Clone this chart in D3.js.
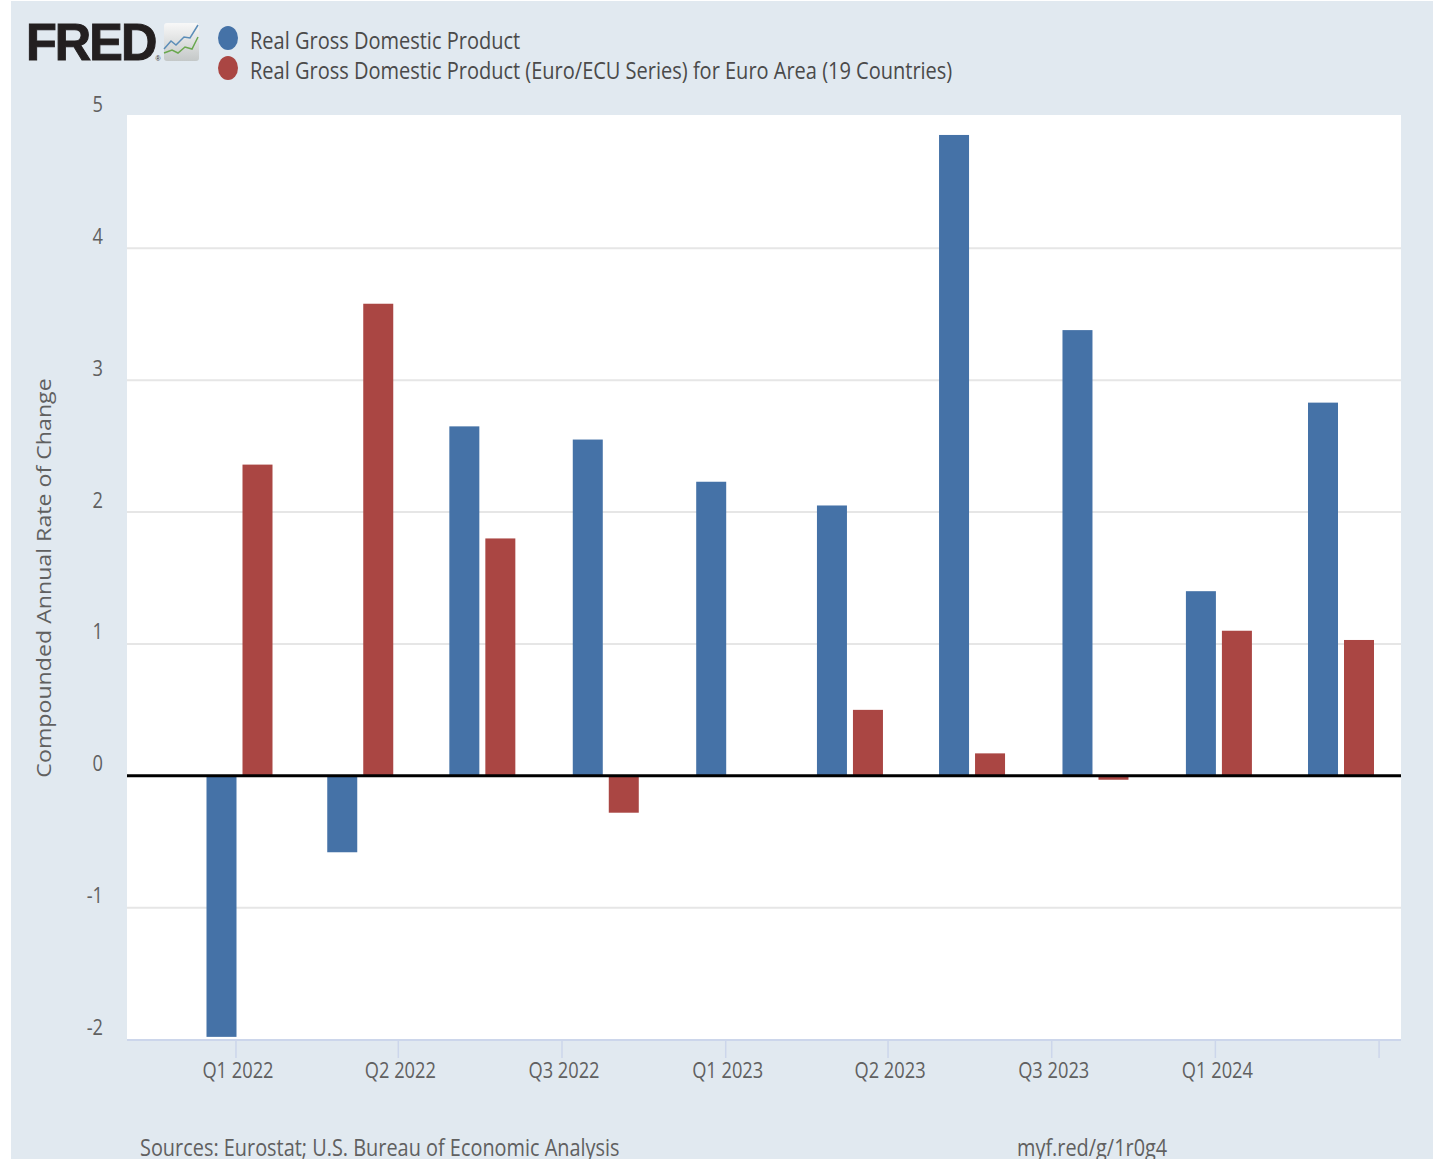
<!DOCTYPE html>
<html>
<head>
<meta charset="utf-8">
<script src="https://cdn.jsdelivr.net/npm/d3@7"></script>
<style>
  body { margin: 0; background: #fff; overflow: hidden; }
  text { font-family: "Open Sans", sans-serif; }
</style>
</head>
<body>
<div id="chart"></div>
<script>
// quarterly data
const quarters = ["2022-01-01","2022-04-01","2022-07-01","2022-10-01","2023-01-01",
                  "2023-04-01","2023-07-01","2023-10-01","2024-01-01","2024-04-01"];
const usGdp = [-1.98,-0.58,2.65,2.55,2.23,2.05,4.86,3.38,1.40,2.83];
const euroGdp = [2.36,3.58,1.80,-0.28,0,0.50,0.17,-0.03,1.10,1.03];
const seriesNames = ["Real Gross Domestic Product",
                     "Real Gross Domestic Product (Euro/ECU Series) for Euro Area (19 Countries)"];
const seriesColors = ["#4572a7","#aa4643"];
const xTickDates = ["2021-12-29","2022-04-29","2022-08-29","2022-12-29","2023-04-29","2023-08-29","2023-12-29","2024-04-29"];
const xTickLabels = ["Q1 2022","Q2 2022","Q3 2022","Q1 2023","Q2 2023","Q3 2023","Q1 2024",""];
const yTicks = [-2,-1,0,1,2,3,4,5];

const W = 1440, H = 1159;
const plot = {left:127, right:1401, top:115, bottom:1040};
// the source image is squashed sideways, text looks narrow
const squeeze = 0.83, legendSqueeze = 0.834, footSqueeze = 0.865;

const svg = d3.select("#chart").append("svg").attr("width",W).attr("height",H).style("display","block");

svg.append("rect").attr("x",11).attr("y",1).attr("width",1422).attr("height",H).attr("fill","#e1e9f0");
svg.append("rect").attr("x",plot.left).attr("y",plot.top)
  .attr("width",plot.right-plot.left).attr("height",plot.bottom-plot.top).attr("fill","#fff");

const parse = d3.utcParse("%Y-%m-%d");
const x = d3.scaleUtc()
  .domain([parse(quarters[0]),parse(quarters[9])])
  .range([239.5,1341]);
const y = d3.scaleLinear().domain([-2,5]).range([1039.5,116.5]);
const sub = d3.scaleBand().domain([0,1]).range([-33,33]).paddingInner(1/6);

// gridlines
svg.append("g").selectAll("line").data(yTicks.filter(d=>d!==0 && d!==5 && d!==-2)).enter().append("line")
  .attr("x1",plot.left).attr("x2",plot.right)
  .attr("y1",d=>y(d)).attr("y2",d=>y(d))
  .attr("stroke","#e6e6e6").attr("stroke-width",2);

// bars
[usGdp,euroGdp].forEach(function(vals,s){
  svg.append("g").selectAll("rect").data(vals).enter().append("rect")
    .attr("x",(d,i)=>x(parse(quarters[i]))+sub(s))
    .attr("width",sub.bandwidth())
    .attr("y",d=>y(Math.max(d,0)))
    .attr("height",d=>Math.abs(y(d)-y(0)))
    .attr("fill",seriesColors[s]);
});

// zero line
svg.append("line").attr("x1",plot.left).attr("x2",plot.right)
  .attr("y1",y(0)).attr("y2",y(0)).attr("stroke","#000").attr("stroke-width",3);

// x axis
const xAxis = d3.axisBottom(x)
  .tickValues(xTickDates.map(parse))
  .tickSize(18)
  .tickFormat((d,i)=>xTickLabels[i]);
const gx = svg.append("g").attr("transform","translate(0,"+plot.bottom+")").call(xAxis);
gx.select(".domain").remove();
gx.append("line").attr("x1",plot.left).attr("x2",plot.right).attr("stroke","#ccd6eb").attr("stroke-width",2);
gx.selectAll(".tick line").attr("stroke","#ccd6eb").attr("stroke-width",1.5);
gx.selectAll(".tick text")
  .attr("y",0).attr("dy",null)
  .attr("text-anchor","middle").attr("fill","#606060").style("font-size","22px")
  .attr("transform","translate(2,38) scale("+squeeze+",1)");

// y axis, labels sit above their gridline
const yAxis = d3.axisLeft(y).tickValues(yTicks).tickSize(0).tickFormat(d=>String(d));
const gy = svg.append("g").attr("transform","translate(103,0)").call(yAxis);
gy.select(".domain").remove();
gy.selectAll(".tick text")
  .attr("x",0).attr("y",0).attr("dy",null)
  .attr("text-anchor","end").attr("fill","#606060").style("font-size","22px")
  .attr("transform","translate(0,-5) scale("+squeeze+",1)");

svg.append("text")
  .attr("transform","translate(51,578) rotate(-90) scale(1.13,1)")
  .attr("text-anchor","middle").attr("fill","#606060").style("font-size","20.5px")
  .text("Compounded Annual Rate of Change");

// legend
seriesNames.forEach(function(name,i){
  const ly = 38+i*30;
  svg.append("ellipse").attr("cx",228).attr("cy",ly).attr("rx",10).attr("ry",12).attr("fill",seriesColors[i]);
  svg.append("text").attr("transform","translate(250,"+(ly+11)+") scale("+legendSqueeze+",1)")
    .attr("fill","#4a4a4a").style("font-size","24px").text(name);
});

// logo
const logo = svg.append("text").attr("transform","translate(26,60) scale(0.97,1)")
  .attr("fill","#231f20").attr("stroke","#231f20").attr("stroke-width",1)
  .style("font-size","52px").style("font-weight","800")
  .style("font-family","'Liberation Sans',sans-serif").style("letter-spacing","-2px").text("FRED");
logo.append("tspan").attr("dy",1).attr("stroke","none")
  .style("font-size","7px").style("font-weight","400").style("letter-spacing","0").text("®");
const grad = svg.append("defs").append("linearGradient").attr("id","logobg").attr("x1",0).attr("y1",0).attr("x2",0).attr("y2",1);
grad.append("stop").attr("offset",0).attr("stop-color","#f8f8f8");
grad.append("stop").attr("offset",1).attr("stop-color","#c4c8c8");
svg.append("rect").attr("x",164).attr("y",23).attr("width",35).attr("height",38).attr("rx",3).attr("fill","url(#logobg)");
const logoLine = d3.line();
svg.append("path").attr("d",logoLine([[164,49],[171,41],[176,45],[184,37],[190,38],[198,25]]))
  .attr("fill","none").attr("stroke","#5b8db8").attr("stroke-width",1.5);
svg.append("path").attr("d",logoLine([[164,53],[172,50],[178,53],[185,47],[192,49],[198,37]]))
  .attr("fill","none").attr("stroke","#6aa84f").attr("stroke-width",1.5);

// footer, runs off the bottom edge like the reference
svg.append("text").attr("transform","translate(140,1156) scale("+footSqueeze+",1)")
  .attr("fill","#606060").style("font-size","23px").text("Sources: Eurostat; U.S. Bureau of Economic Analysis");
svg.append("text").attr("transform","translate(1017,1156) scale("+footSqueeze+",1)")
  .attr("fill","#606060").style("font-size","23px").text("myf.red/g/1r0g4");
</script>
</body>
</html>
